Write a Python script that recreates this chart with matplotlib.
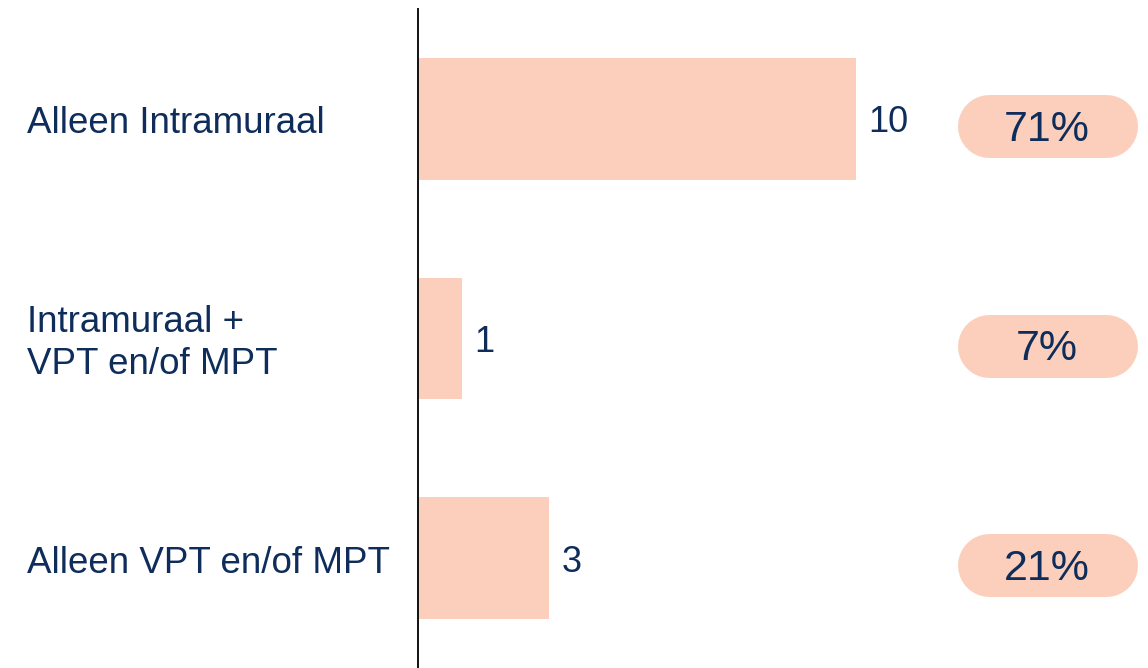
import matplotlib
matplotlib.use("Agg")
import matplotlib.pyplot as plt
from matplotlib.transforms import blended_transform_factory

categories = ["Alleen Intramuraal", "Intramuraal +\nVPT en/of MPT", "Alleen VPT en/of MPT"]
values = [10, 1, 3]
percent_labels = ["71%", "7%", "21%"]

BAR = "#FBCFBB"
TEXT = "#0E2D5B"
plt.rcParams["font.family"] = ["Liberation Sans", "DejaVu Sans"]

W, H = 1148, 668
fig = plt.figure(figsize=(W / 100, H / 100), dpi=100)
ax = fig.add_axes([418 / W, 0.0, (W - 418) / W, (H - 9) / H])

y = list(range(len(categories)))
ax.barh(y, values, height=0.553, color=BAR, left=0)
ax.set_ylim(2.5, -0.5)
ax.set_xlim(0, (W - 418) / 43.8)
for s in ["top", "right", "bottom"]:
    ax.spines[s].set_visible(False)
ax.spines["left"].set_linewidth(1.4)
ax.spines["left"].set_color("#111111")
ax.set_xticks([])
ax.set_yticks([])

for yi, v in zip(y, values):
    ax.annotate(str(v), (v, yi), xytext=(12, -4), textcoords="offset pixels",
                ha="left", va="center", fontsize=26, color=TEXT)

tr = blended_transform_factory(fig.transFigure, ax.transData)
for yi, c in zip(y, categories):
    ax.annotate(c, (27 / W, yi), xycoords=tr, xytext=(0, -5), textcoords="offset pixels",
                ha="left", va="center", fontsize=26.5, color=TEXT, linespacing=1.26)

# overlay in pixel coordinates for the pills
ov = fig.add_axes([0, 0, 1, 1], zorder=5)
ov.set_xlim(0, W)
ov.set_ylim(0, H)
ov.axis("off")
ov.patch.set_alpha(0)
pw, ph = 180, 63
cx = 1047
for yi, p in zip(y, percent_labels):
    cy = ax.transData.transform((0, yi))[1] - 7
    ov.plot([cx - pw / 2 + ph / 2, cx + pw / 2 - ph / 2], [cy, cy], color=BAR,
            linewidth=ph * 72 / 100, solid_capstyle="round")
    ov.text(cx, cy - 4, p, ha="center", va="center", fontsize=31, color=TEXT)

fig.savefig("out.png", dpi=100)
